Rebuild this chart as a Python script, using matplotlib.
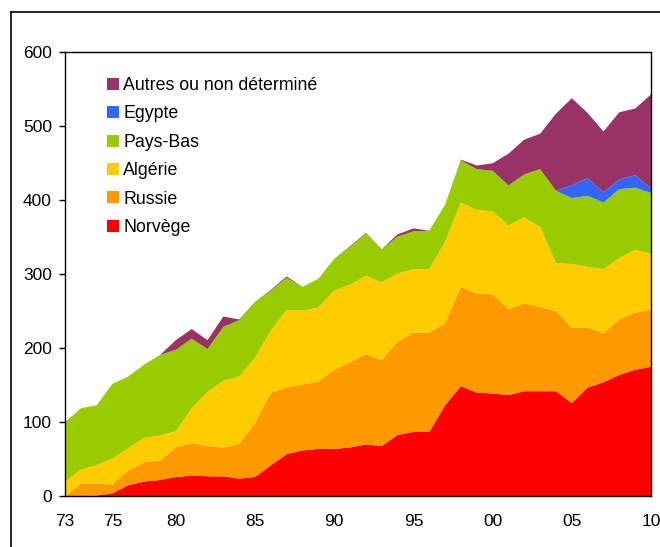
import matplotlib
matplotlib.use("Agg")
import matplotlib.pyplot as plt
from matplotlib.lines import Line2D

plt.rcParams['font.family'] = ['Liberation Sans', 'DejaVu Sans']

years = list(range(1973, 2011))

# values (stacked from the bottom up)
norvege = [0, 0, 1, 4, 15, 20, 22, 26, 28, 27, 27, 24, 26, 42, 57, 62, 64, 64, 66,
           70, 68, 83, 87, 87, 123, 149, 140, 139, 137, 142, 142, 142, 126, 147,
           154, 164, 171, 175]
russie = [0, 17, 16, 12, 20, 26, 26, 40, 44, 41, 39, 47, 73, 98, 90, 89, 91, 107,
          115, 122, 116, 126, 134, 134, 111, 134, 134, 134, 116, 119, 114, 108,
          102, 81, 66, 75, 77, 77]
algerie = [20, 19, 25, 35, 30, 33, 34, 22, 47, 73, 90, 91, 88, 84, 105, 100, 100,
           107, 105, 106, 105, 92, 86, 86, 110, 114, 113, 112, 113, 116, 108, 65,
           86, 82, 87, 83, 85, 76]
pays_bas = [80, 83, 81, 101, 97, 99, 109, 110, 94, 58, 73, 76, 76, 54, 43, 32, 39,
            43, 51, 57, 45, 50, 51, 52, 50, 57, 55, 55, 54, 58, 78, 98, 89, 96, 90,
            93, 84, 82]
egypte = [0] * 31 + [0, 17, 24, 14, 13, 17, 6]
autres = [0, 0, 0, 0, 0, 0, 0, 13, 13, 12, 14, 1, 0, 1, 2, 0, 0, 0, 1, 1, 0, 3, 4,
          0, 0, 1, 5, 10, 43, 47, 48, 104, 118, 88, 82, 91, 90, 127]

labels = ['Norvège', 'Russie', 'Algérie', 'Pays-Bas', 'Egypte', 'Autres ou non déterminé']
colors = ['#FF0000', '#FF9900', '#FFCC00', '#99CC00', '#3366FF', '#993366']

tick_years = [1973, 1976, 1980, 1985, 1990, 1995, 2000, 2005, 2010]
tick_labels = ['73', '75', '80', '85', '90', '95', '00', '05', '10']

fig = plt.figure(figsize=(6.6, 5.47), dpi=100)
ax = fig.add_axes([65 / 660, 1 - 496.3 / 547, 586 / 660, 444 / 547])

polys = ax.stackplot(years, norvege, russie, algerie, pays_bas, egypte, autres,
                     colors=colors, labels=labels, linewidth=0)

ax.set_xlim(1973, 2010)
ax.set_ylim(0, 600)
ax.set_yticks(range(0, 601, 100))
ax.set_xticks(tick_years)
ax.set_xticklabels(tick_labels)
ax.tick_params(axis='y', direction='out', length=4, width=1, pad=5.5, labelsize=12.5)
ax.tick_params(axis='x', length=0, pad=12.5, labelsize=12.5)
for s in ax.spines.values():
    s.set_linewidth(1)

handles, labs = ax.get_legend_handles_labels()
ax.legend(handles[::-1], labs[::-1], loc='upper left', frameon=False,
          bbox_to_anchor=(107 / 660, 1 - 77 / 547), bbox_transform=fig.transFigure,
          fontsize=12.8, handlelength=0.66, handleheight=0.66, handletextpad=0.25,
          labelspacing=0.64, borderpad=0, borderaxespad=0)

# outer frame of the original picture
y_top = 1 - 12 / 547
x_left = 11 / 660
fig.add_artist(Line2D([x_left, x_left], [0, y_top], color='black', lw=1.2))
fig.add_artist(Line2D([x_left, 1], [y_top, y_top], color='black', lw=1.2))

plt.savefig("out.png", dpi=100)
